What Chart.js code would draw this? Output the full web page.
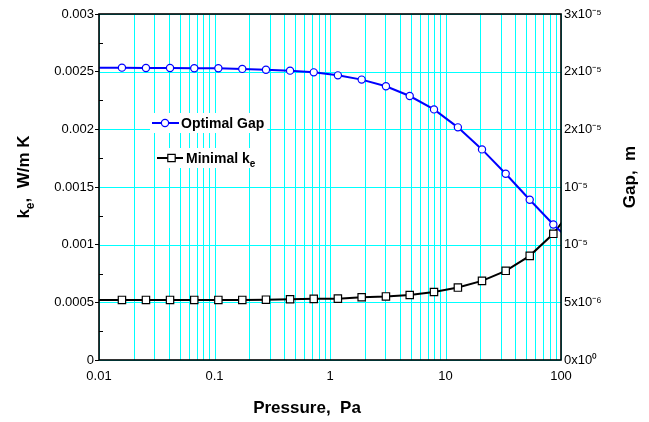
<!DOCTYPE html>
<html><head><meta charset="utf-8">
<script src="https://cdn.jsdelivr.net/npm/chart.js@4/dist/chart.umd.min.js"></script>
<style>html,body{margin:0;padding:0;background:#fff}#wrap{width:649px;height:422px}</style>
</head><body><div id="wrap"><canvas id="c" width="649" height="422"></canvas></div>
<script>
// ---- data ----
const pressure = [0.0098, 0.0158, 0.0255, 0.0412, 0.0668, 0.108, 0.174, 0.279, 0.451, 0.723,
  1.17, 1.88, 3.05, 4.90, 7.95, 12.8, 20.7, 33.2, 53.6, 85.8, 138];
const optimalGap = [2.535e-5, 2.535e-5, 2.532e-5, 2.532e-5, 2.529e-5, 2.529e-5, 2.524e-5, 2.517e-5, 2.509e-5, 2.494e-5,
  2.468e-5, 2.431e-5, 2.373e-5, 2.289e-5, 2.173e-5, 2.017e-5, 1.826e-5, 1.615e-5, 1.389e-5, 1.175e-5, 0.981e-5];
const minimalKe = [0.000521, 0.000521, 0.000521, 0.000521, 0.000521, 0.000521, 0.000521, 0.000523, 0.000527, 0.00053,
  0.000532, 0.000544, 0.000551, 0.000564, 0.00059, 0.000628, 0.000686, 0.000773, 0.000903, 0.001094, 0.00137];

const xMajorTicks = [0.01, 0.1, 1, 10, 100];
const xTickLabels = ['0.01', '0.1', '1', '10', '100'];
const yTickValues = [0, 0.0005, 0.001, 0.0015, 0.002, 0.0025, 0.003];
const yTickLabels = ['0', '0.0005', '0.001', '0.0015', '0.002', '0.0025', '0.003'];
const y1TickValues = [0, 5e-6, 1e-5, 1.5e-5, 2e-5, 2.5e-5, 3e-5];
const y1TickLabels = ['0x10\u2070', '5x10\u207B\u2076', '10\u207B\u2075', '10\u207B\u2075', '2x10\u207B\u2075', '2x10\u207B\u2075', '3x10\u207B\u2075'];

const xTitle = 'Pressure,  Pa';
const yTitleParts = [['k', false], ['e', true], [',  W/m K', false]];
const y1Title = 'Gap,  m';
const legendEntries = [
  { parts: [['Optimal Gap', false]], color: '#0000ff', style: 'circle' },
  { parts: [['Minimal k', false], ['e', true]], color: '#000000', style: 'rect' }
];

// ---- helpers ----
const FONT = '"Liberation Sans", Arial, Helvetica, sans-serif';
const cyan = '#00ffff';
// grid positions for log axis (1..9 within each decade)
const xGridValues = [];
xMajorTicks.forEach((m, i) => {
  xGridValues.push(m);
  if (i < xMajorTicks.length - 1) for (let s = 2; s <= 9; s++) xGridValues.push(m * s);
});
const yMinorTicks = yTickValues.slice(0, -1).map((v, i) => (v + yTickValues[i + 1]) / 2);

function richWidth(ctx, parts, size) {
  let w = 0;
  parts.forEach(([t, sub]) => { ctx.font = 'bold ' + (sub ? Math.round(size * 0.7) : size) + 'px ' + FONT; w += ctx.measureText(t).width; });
  return w;
}
function drawRich(ctx, parts, x, y, size, align) {
  const w = richWidth(ctx, parts, size);
  let cx = align === 'center' ? x - w / 2 : x;
  parts.forEach(([t, sub]) => {
    ctx.font = 'bold ' + (sub ? Math.round(size * 0.7) : size) + 'px ' + FONT;
    ctx.fillText(t, cx, y + (sub ? size * 0.28 : 0));
    cx += ctx.measureText(t).width;
  });
}

const extras = {
  id: 'extras',
  beforeDatasetsDraw(chart) {
    const { ctx, chartArea: a, scales } = chart;
    ctx.save();
    ctx.strokeStyle = cyan; ctx.lineWidth = 1;
    xGridValues.forEach(v => {
      const x = Math.round(scales.x.getPixelForValue(v)) + 0.5;
      ctx.beginPath(); ctx.moveTo(x, a.top); ctx.lineTo(x, a.bottom); ctx.stroke();
    });
    yTickValues.forEach(v => {
      const y = Math.round(scales.y.getPixelForValue(v)) + 0.5;
      ctx.beginPath(); ctx.moveTo(a.left, y); ctx.lineTo(a.right, y); ctx.stroke();
    });
    ctx.restore();
  },
  afterDatasetsDraw(chart) {
    const ctx = chart.ctx;
    ctx.save();
    const rows = [{ x0: 152, x1: 179, mx: 165, tx: 181, y: 123 }, { x0: 157, x1: 183, mx: 171.5, tx: 186, y: 158 }];
    legendEntries.forEach((e, i) => {
      const r = rows[i];
      const tw = richWidth(ctx, e.parts, 14);
      ctx.fillStyle = '#fff';
      ctx.fillRect(r.x0 - 2, r.y - 10, r.tx + tw + 3 - (r.x0 - 2), 20);
      ctx.strokeStyle = e.color; ctx.lineWidth = 2;
      ctx.beginPath(); ctx.moveTo(r.x0, r.y); ctx.lineTo(r.x1, r.y); ctx.stroke();
      ctx.fillStyle = '#fff'; ctx.lineWidth = 1.2;
      ctx.beginPath();
      if (e.style === 'circle') ctx.arc(r.mx, r.y, 3.6, 0, Math.PI * 2);
      else ctx.rect(r.mx - 3.7, r.y - 3.7, 7.4, 7.4);
      ctx.fill(); ctx.stroke();
      ctx.fillStyle = '#000'; ctx.textBaseline = 'alphabetic'; ctx.textAlign = 'left';
      drawRich(ctx, e.parts, r.tx, r.y + 5, 14, 'left');
    });
    ctx.restore();
  },
  afterDraw(chart) {
    const { ctx, chartArea: a, scales } = chart;
    ctx.save();
    ctx.strokeStyle = '#000'; ctx.lineWidth = 1;
    yMinorTicks.forEach(v => {
      const y = Math.round(scales.y.getPixelForValue(v)) + 0.5;
      ctx.beginPath(); ctx.moveTo(a.left, y); ctx.lineTo(a.left + 4, y); ctx.stroke();
    });
    ctx.lineWidth = 1.6;
    ctx.strokeRect(a.left, a.top, a.right - a.left, a.bottom - a.top);
    ctx.fillStyle = '#000'; ctx.textAlign = 'left'; ctx.textBaseline = 'alphabetic';
    drawRich(ctx, [[xTitle, false]], 307, 413, 17, 'center');
    ctx.save(); ctx.translate(29, 177); ctx.rotate(-Math.PI / 2);
    drawRich(ctx, yTitleParts, 0, 0, 17, 'center');
    ctx.restore();
    ctx.save(); ctx.translate(635, 177); ctx.rotate(-Math.PI / 2);
    drawRich(ctx, [[y1Title, false]], 0, 0, 17, 'center');
    ctx.restore();
    ctx.restore();
  }
};

const edgeRadius = (r) => pressure.map((p, i) => (i === 0 || i === pressure.length - 1) ? 0 : r);

new Chart(document.getElementById('c'), {
  type: 'line',
  data: {
    datasets: [
      {
        label: 'Optimal Gap', yAxisID: 'y1',
        data: pressure.map((p, i) => ({ x: p, y: optimalGap[i] })),
        borderColor: '#0000ff', borderWidth: 2, backgroundColor: '#fff',
        pointStyle: 'circle', pointRadius: edgeRadius(3.6), pointBorderWidth: 1.2,
        pointBackgroundColor: '#fff', pointBorderColor: '#0000ff', tension: 0
      },
      {
        label: 'Minimal ke', yAxisID: 'y',
        data: pressure.map((p, i) => ({ x: p, y: minimalKe[i] })),
        borderColor: '#000', borderWidth: 2, backgroundColor: '#fff',
        pointStyle: 'rect', pointRadius: edgeRadius(5.2), pointBorderWidth: 1.2,
        pointBackgroundColor: '#fff', pointBorderColor: '#000', tension: 0
      }
    ]
  },
  options: {
    responsive: false, animation: false, devicePixelRatio: 1,
    layout: { padding: { top: 14, left: 0, right: 0, bottom: 0 } },
    plugins: { legend: { display: false }, tooltip: { enabled: false } },
    scales: {
      x: {
        type: 'logarithmic', min: 0.01, max: 100,
        afterBuildTicks: (s) => { s.ticks = xMajorTicks.map(v => ({ value: v })); },
        afterFit: (s) => { s.height = 62; },
        grid: { display: true, drawOnChartArea: false, drawTicks: false },
        border: { display: false },
        ticks: {
          autoSkip: false, maxRotation: 0, padding: 9, color: '#000',
          font: { family: FONT, size: 13 },
          callback: (v, i) => xTickLabels[i]
        }
      },
      y: {
        type: 'linear', position: 'left', min: 0, max: 0.003,
        afterBuildTicks: (s) => { s.ticks = yTickValues.map(v => ({ value: v })); },
        afterFit: (s) => { s.width = 99; },
        grid: { drawOnChartArea: false, tickColor: '#000', tickLength: 4 },
        border: { display: false },
        ticks: {
          padding: 1, color: '#000', font: { family: FONT, size: 13 },
          callback: (v, i) => yTickLabels[i]
        }
      },
      y1: {
        type: 'linear', position: 'right', min: 0, max: 3e-5,
        afterBuildTicks: (s) => { s.ticks = y1TickValues.map(v => ({ value: v })); },
        afterFit: (s) => { s.width = 88; },
        grid: { drawOnChartArea: false, drawTicks: false },
        border: { display: false },
        ticks: {
          padding: 3, color: '#000', font: { family: FONT, size: 13 },
          callback: (v, i) => y1TickLabels[i]
        }
      }
    }
  },
  plugins: [extras]
});
</script>
</body></html>
